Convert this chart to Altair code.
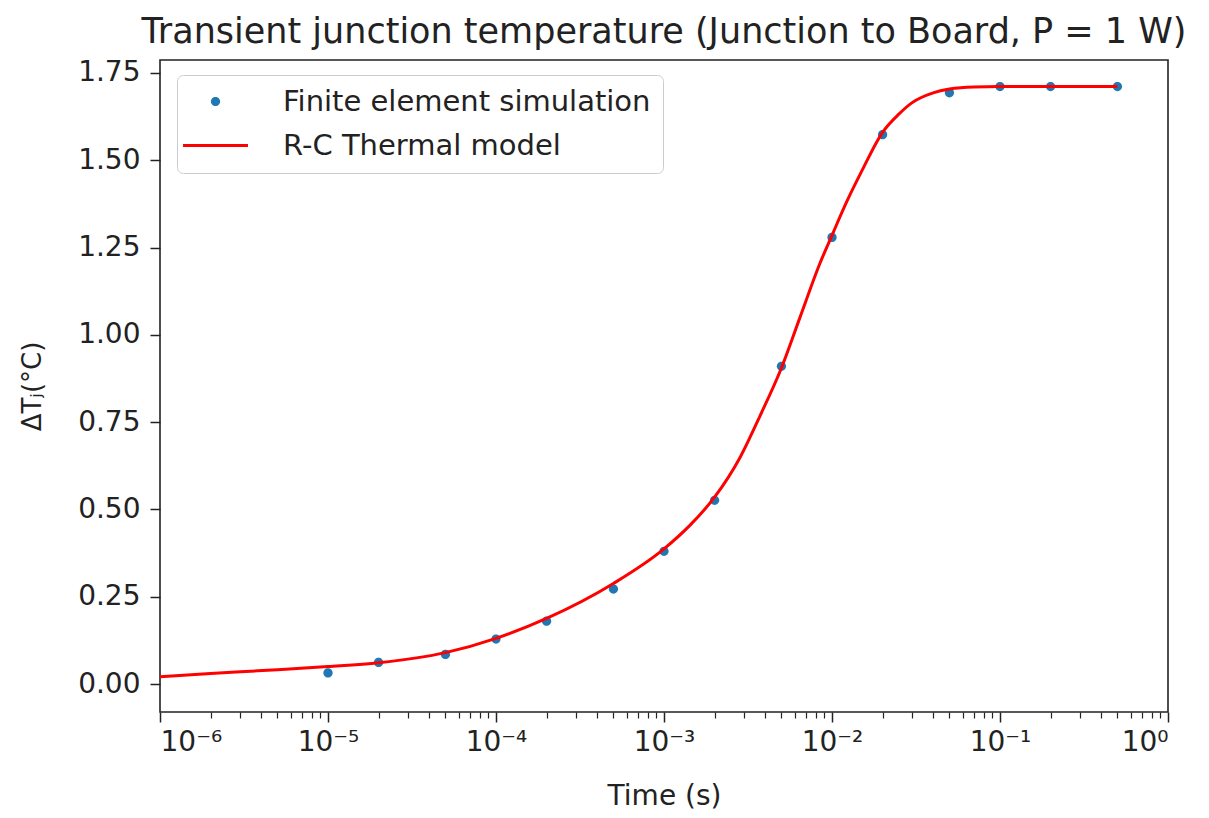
import altair as alt
import pandas as pd

# ---- data ----
sim_time = [1e-5, 2e-5, 5e-5, 1e-4, 2e-4, 5e-4, 1e-3, 2e-3, 5e-3, 1e-2, 2e-2, 5e-2, 1e-1, 2e-1, 5e-1]
sim_dT = [0.032, 0.062, 0.085, 0.129, 0.180, 0.272, 0.380, 0.526, 0.910, 1.279, 1.573, 1.693, 1.711, 1.711, 1.711]

model_time = [1e-6, 2e-6, 3e-6, 5e-6, 1e-5, 2e-5, 5e-5, 1e-4, 2e-4, 5e-4, 1e-3, 1.43e-3, 2e-3,
              2.83e-3, 3.73e-3, 5e-3, 6.45e-3, 8.48e-3, 1e-2, 1.22e-2, 1.5e-2, 2e-2, 2.5e-2, 3e-2,
              4e-2, 5e-2, 7e-2, 1e-1, 2e-1, 5e-1]
model_dT = [0.021, 0.030, 0.035, 0.041, 0.050, 0.061, 0.090, 0.131, 0.188, 0.288, 0.387, 0.455, 0.535,
            0.648, 0.768, 0.905, 1.050, 1.205, 1.285, 1.380, 1.468, 1.580, 1.632, 1.665,
            1.693, 1.704, 1.710, 1.711, 1.711, 1.711]

series_names = ["Finite element simulation", "R-C Thermal model"]
series_colors = ["#1f77b4", "#ff0000"]

major_ticks = [1e-6, 1e-5, 1e-4, 1e-3, 1e-2, 1e-1, 1e0]
major_labels = ["10⁻⁶", "10⁻⁵", "10⁻⁴", "10⁻³", "10⁻²", "10⁻¹", "10⁰"]
minor_ticks = [m * d for d in [1e-6, 1e-5, 1e-4, 1e-3, 1e-2, 1e-1] for m in range(2, 10)]
y_ticks = [0.0, 0.25, 0.5, 0.75, 1.0, 1.25, 1.5, 1.75]

sim_df = pd.DataFrame({"t": sim_time, "dT": sim_dT, "series": series_names[0]})
model_df = pd.DataFrame({"t": model_time, "dT": model_dT, "series": series_names[1]})

FONT = "DejaVu Sans"
TXT = "#222222"

circle_path = "M-0.33,0A0.33,0.33 0 1,1 0.33,0A0.33,0.33 0 1,1 -0.33,0Z"
line_path = "M-2.32,-0.11H2.32V0.11H-2.32Z"

label_expr = "[" + ",".join("'" + s + "'" for s in major_labels) + "][round(log(datum.value)/LN10)+6]"

x_scale = alt.Scale(type="log", domain=[1e-6, 1.0], nice=False)
y_scale = alt.Scale(domain=[-0.080, 1.787], nice=False, zero=False)
color_scale = alt.Scale(domain=series_names, range=series_colors)
shape_scale = alt.Scale(domain=series_names, range=[circle_path, line_path])

legend = alt.Legend(
    title=None, orient="none", legendX=17, legendY=15,
    labelFont=FONT, labelFontSize=29, labelColor=TXT, labelLimit=0,
    symbolSize=784, symbolOffset=12, labelOffset=53, rowPadding=14,
    padding=12, fillColor="white", strokeColor="#cccccc", cornerRadius=6,
    symbolStrokeWidth=0, symbolOpacity=1,
)

points = alt.Chart(sim_df).mark_point(filled=True, size=784, opacity=1).encode(
    x=alt.X("t:Q", scale=x_scale, title="Time (s)",
            axis=alt.Axis(values=major_ticks, labelExpr=label_expr, grid=False, domain=False,
                          tickSize=10, tickWidth=1.5, tickColor=TXT, labelPadding=6,
                          labelFont=FONT, labelFontSize=28, labelColor=TXT,
                          titleFont=FONT, titleFontSize=28, titleFontWeight="normal",
                          titleColor=TXT, titlePadding=26, orient="bottom")),
    y=alt.Y("dT:Q", scale=y_scale, title="ΔTⱼ(°C)",
            axis=alt.Axis(values=y_ticks, format=".2f", grid=False, domain=False,
                          tickSize=10, tickWidth=1.5, tickColor=TXT, labelPadding=10,
                          labelFont=FONT, labelFontSize=28, labelColor=TXT,
                          titleFont=FONT, titleFontSize=26, titleFontWeight="normal",
                          titleColor=TXT, titlePadding=32)),
    color=alt.Color("series:N", scale=color_scale, legend=legend),
    shape=alt.Shape("series:N", scale=shape_scale, legend=legend),
)

line = alt.Chart(model_df).mark_line(strokeWidth=3, interpolate="monotone").encode(
    x=alt.X("t:Q", scale=x_scale, title=None,
            axis=alt.Axis(values=minor_ticks, labels=False, grid=False, domain=False,
                          tickSize=6, tickWidth=1.2, tickColor=TXT, orient="bottom")),
    y=alt.Y("dT:Q", scale=y_scale),
    color=alt.Color("series:N", scale=color_scale, legend=None),
)

chart = alt.layer(points, line).resolve_axis(x="independent").properties(
    width=1008, height=652,
    background="white",
    autosize=alt.AutoSizeParams(type="none"),
    padding={"left": 152, "top": 52, "right": 33, "bottom": 106},
    title=alt.Title("Transient junction temperature (Junction to Board, P = 1 W)",
                    font=FONT, fontSize=35, fontWeight="normal", color=TXT,
                    anchor="middle", offset=9),
).configure_view(stroke=TXT, strokeWidth=1.6)

chart.save("out.html", embed_options={"renderer": "svg", "actions": False})
